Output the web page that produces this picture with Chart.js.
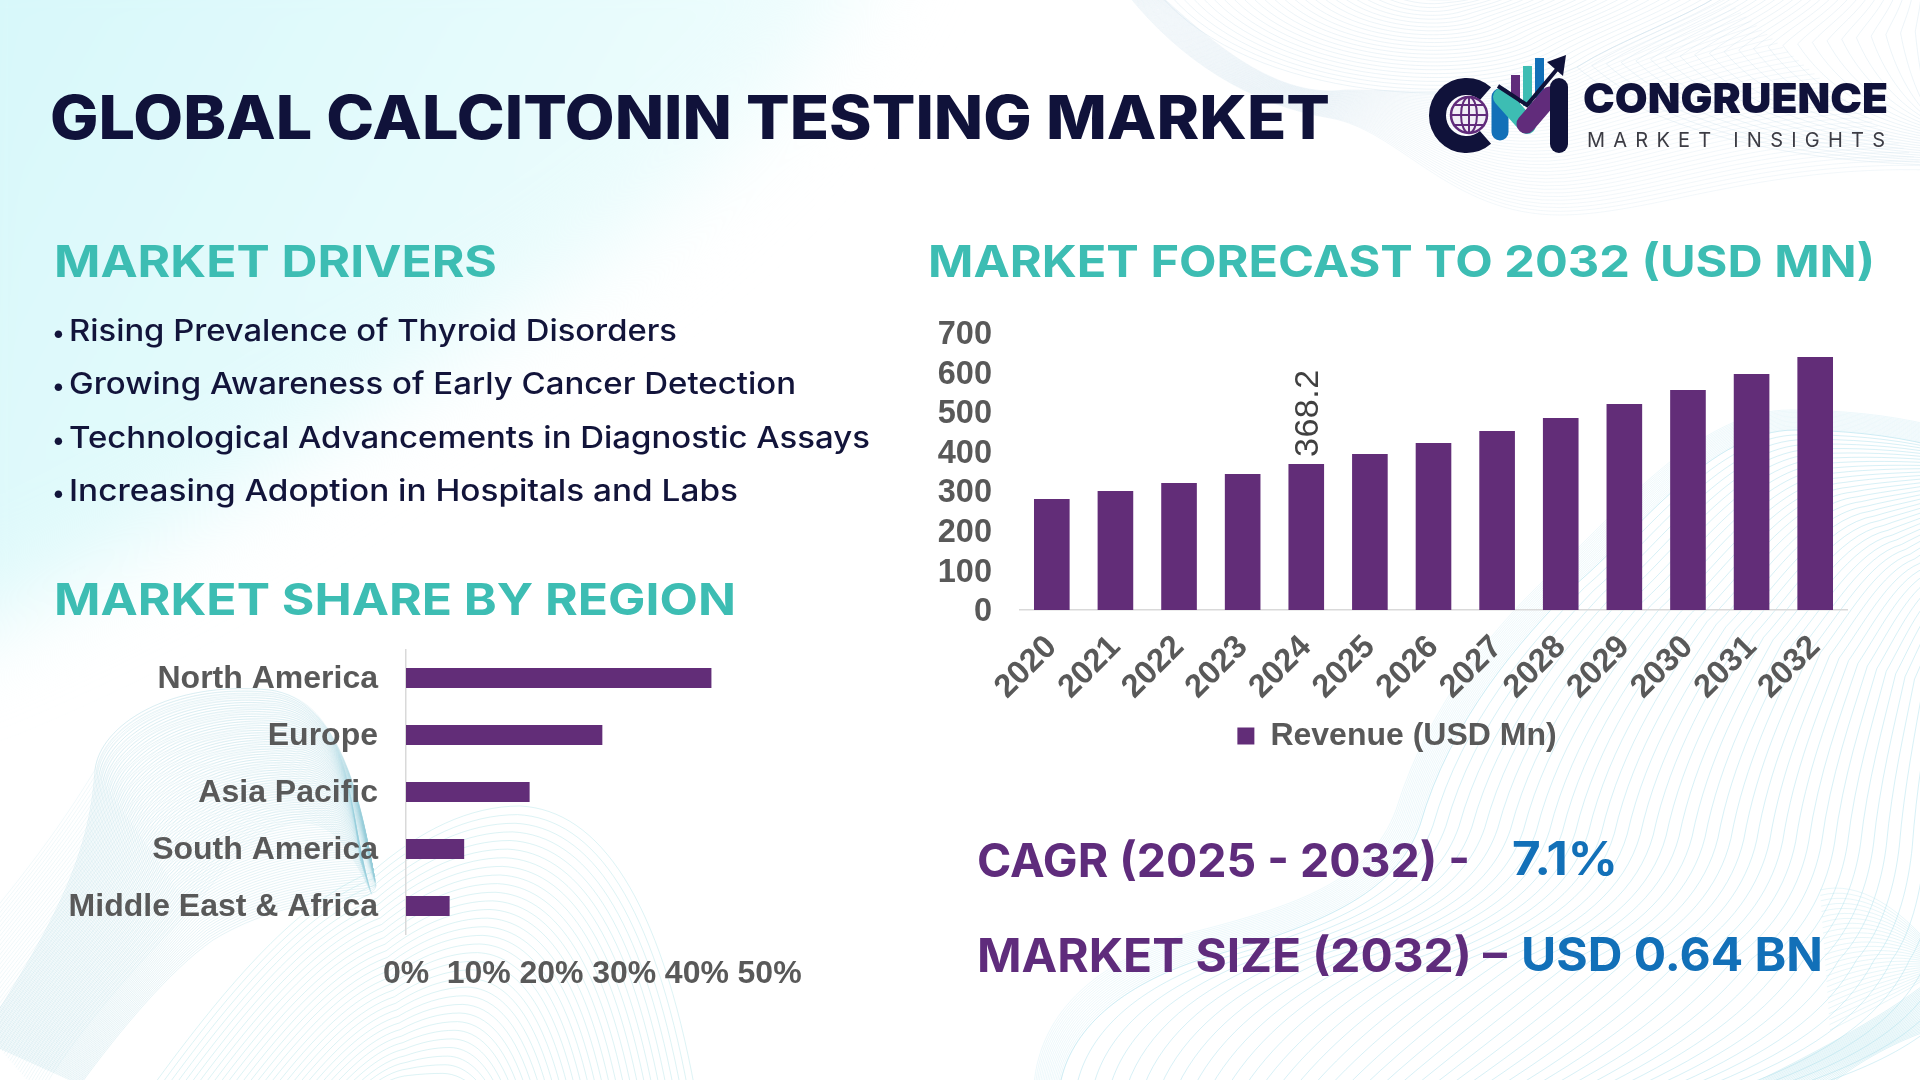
<!DOCTYPE html>
<html>
<head>
<meta charset="utf-8">
<title>Global Calcitonin Testing Market</title>
<script src="https://cdn.jsdelivr.net/npm/chart.js@4"></script>
<style>
    html, body { margin: 0; padding: 0; background: #fff; }
    #page { position: relative; width: 1920px; height: 1080px; overflow: hidden; background: #fff; }
    #page canvas, #page svg { position: absolute; }
    #bg { left: 0; top: 0; }
    #texts { left: 0; top: 0; }
    #chart-forecast { left: 935px; top: 280px; }
    #chart-region { left: 40px; top: 600px; }
    text { font-family: Inter, sans-serif; }
</style>
</head>
<body>
<div id="page">
    <canvas id="bg" width="1920" height="1080"></canvas>
    <svg id="texts" width="1920" height="1080" viewBox="0 0 1920 1080">
        <text x="50" y="139" font-size="60" font-weight="800" fill="#10123a" textLength="1280" lengthAdjust="spacingAndGlyphs">GLOBAL CALCITONIN TESTING MARKET</text>

        <text x="54" y="277" font-size="44" font-weight="700" fill="#3dbdb3" textLength="443" lengthAdjust="spacingAndGlyphs">MARKET DRIVERS</text>
        <text x="928" y="277" font-size="44" font-weight="700" fill="#3dbdb3" textLength="947" lengthAdjust="spacingAndGlyphs">MARKET FORECAST TO 2032 (USD MN)</text>
        <text x="54" y="615" font-size="44" font-weight="700" fill="#3dbdb3" textLength="682" lengthAdjust="spacingAndGlyphs">MARKET SHARE BY REGION</text>

        <text x="52" y="341" font-size="24" font-weight="500" fill="#12143a">•</text>
        <text x="69" y="341" font-size="30" font-weight="500" fill="#12143a" textLength="608" lengthAdjust="spacingAndGlyphs">Rising Prevalence of Thyroid Disorders</text>
        <text x="52" y="394" font-size="24" font-weight="500" fill="#12143a">•</text>
        <text x="69" y="394" font-size="30" font-weight="500" fill="#12143a" textLength="727" lengthAdjust="spacingAndGlyphs">Growing Awareness of Early Cancer Detection</text>
        <text x="52" y="448" font-size="24" font-weight="500" fill="#12143a">•</text>
        <text x="69" y="448" font-size="30" font-weight="500" fill="#12143a" textLength="801" lengthAdjust="spacingAndGlyphs">Technological Advancements in Diagnostic Assays</text>
        <text x="52" y="501" font-size="24" font-weight="500" fill="#12143a">•</text>
        <text x="69" y="501" font-size="30" font-weight="500" fill="#12143a" textLength="669" lengthAdjust="spacingAndGlyphs">Increasing Adoption in Hospitals and Labs</text>

        <text x="977" y="877" font-size="46" font-weight="700" fill="#5f2c7c" textLength="493" lengthAdjust="spacingAndGlyphs">CAGR (2025 - 2032) -</text>
        <text x="1512" y="875" font-size="46" font-weight="700" fill="#1270b8" textLength="106" lengthAdjust="spacingAndGlyphs">7.1%</text>
        <text x="977" y="972" font-size="46" font-weight="700" fill="#5f2c7c" textLength="530" lengthAdjust="spacingAndGlyphs">MARKET SIZE (2032) –</text>
        <text x="1521" y="971" font-size="46" font-weight="700" fill="#1270b8" textLength="302" lengthAdjust="spacingAndGlyphs">USD 0.64 BN</text>

        <!-- logo -->
        <rect x="1511" y="75" width="9" height="32" fill="#612c7b"/>
        <rect x="1523" y="66" width="9" height="40" fill="#3dbdb3"/>
        <rect x="1535" y="58" width="9" height="40" fill="#1270b8"/>
        <path d="M1485.5 93.6 A29 29 0 1 0 1485.5 137.4" fill="none" stroke="#10123a" stroke-width="17"/>
        <circle cx="1469" cy="115" r="18" fill="#f1eff6" stroke="#612c7b" stroke-width="2.5"/>
        <ellipse cx="1469" cy="115" rx="8" ry="18" fill="none" stroke="#612c7b" stroke-width="2"/>
        <path d="M1469 97V133M1451 115H1487M1454 105H1484M1454 125H1484" fill="none" stroke="#612c7b" stroke-width="2"/>
        <path d="M1500 97L1500 132" fill="none" stroke="#1270b8" stroke-width="17" stroke-linecap="round"/>
        <path d="M1502 97L1527 125" fill="none" stroke="#3dbdb3" stroke-width="18" stroke-linecap="round"/>
        <path d="M1526 124L1550 96" fill="none" stroke="#612c7b" stroke-width="19" stroke-linecap="round"/>
        <rect x="1550" y="78" width="18" height="75" rx="9" fill="#10123a"/>
        <path d="M1498 86L1527 105L1558 68" fill="none" stroke="#10123a" stroke-width="4"/>
        <path d="M1566 55L1547 62L1563 76Z" fill="#10123a"/>
        <text x="1583" y="113" font-size="41" font-weight="900" fill="#10123a" textLength="305" lengthAdjust="spacingAndGlyphs">CONGRUENCE</text>
        <text x="1587" y="147" font-size="20" font-weight="400" fill="#3c3c44" textLength="298" lengthAdjust="spacing">MARKET INSIGHTS</text>
    </svg>
    <canvas id="chart-forecast" width="932" height="482"></canvas>
    <canvas id="chart-region" width="800" height="400"></canvas>
</div>

<script>
    const years = ['2020', '2021', '2022', '2023', '2024', '2025', '2026', '2027', '2028', '2029', '2030', '2031', '2032'];
    const revenue = [280, 300, 320, 343, 368.2, 393.5, 421, 451.5, 484, 519.5, 555, 595, 638];
    const labelledYears = ['2024'];
    const revenueMax = 700;
    const revenueStep = 100;

    const regions = ['North America', 'Europe', 'Asia Pacific', 'South America', 'Middle East & Africa'];
    const regionShare = [42, 27, 17, 8, 6];
    const shareMax = 50;
    const shareStep = 10;

    const purple = '#622d78';
    const grey = '#595959';
    const axisLine = '#d9d9d9';

    // value label turned on its side, only for the years listed
    const barLabels = {
        id: 'barLabels',
        afterDatasetsDraw(chart) {
            let ctx = chart.ctx;
            let meta = chart.getDatasetMeta(0);
            labelledYears.forEach(function (year) {
                let i = years.indexOf(year);
                let bar = meta.data[i];
                ctx.save();
                ctx.translate(bar.x + 2, bar.y - 7);
                ctx.rotate(-Math.PI / 2);
                ctx.font = '34px "Liberation Sans"';
                ctx.letterSpacing = '0.5px';
                ctx.fillStyle = '#404040';
                ctx.textAlign = 'left';
                ctx.textBaseline = 'middle';
                ctx.fillText(String(revenue[i]), 0, 0);
                ctx.restore();
            });
        }
    };

    // legend sits a little right of the plot centre
    const legendShift = {
        id: 'legendShift',
        afterLayout(chart) {
            chart.legend.left += 6;
            chart.legend.right += 6;
        }
    };

    // the automatic layout leaves room for tick labels, so nudge the padding
    // until the plot area ends where it should on the page
    function pinPlot(chart, target, xAxis) {
        let padding = chart.options.layout.padding;
        for (let i = 0; i < 4; i++) {
            let area = chart.chartArea;
            padding.right += area.right - target.right;
            xAxis.height += area.bottom - target.bottom;
            chart.update();
        }
    }

    const forecastAxis = { height: 100 };
    const regionAxis = { height: 65 };

    const forecastChart = new Chart(document.getElementById('chart-forecast').getContext('2d'), {
        type: 'bar',
        data: {
            labels: years,
            datasets: [{
                label: 'Revenue (USD Mn)',
                data: revenue,
                backgroundColor: purple,
                categoryPercentage: 1,
                barPercentage: 0.56
            }]
        },
        options: {
            responsive: false,
            animation: false,
            layout: { padding: { top: 52.4, right: 20 } },
            scales: {
                x: {
                    grid: { display: false, drawTicks: false },
                    border: { color: axisLine, width: 1.5 },
                    ticks: {
                        color: grey,
                        font: { family: 'Liberation Sans', size: 32.5, weight: 'bold' },
                        minRotation: 45,
                        maxRotation: 45,
                        autoSkip: false,
                        padding: 18
                    },
                    afterFit: function (scale) { scale.height = forecastAxis.height; }
                },
                y: {
                    min: 0,
                    max: revenueMax,
                    grid: { display: false, drawTicks: false },
                    border: { display: false },
                    ticks: {
                        stepSize: revenueStep,
                        autoSkip: false,
                        color: grey,
                        font: { family: 'Liberation Sans', size: 32.5, weight: 'bold' },
                        padding: 28,
                        labelOffset: 2.5
                    },
                    afterFit: function (scale) { scale.width = 85; }
                }
            },
            plugins: {
                tooltip: { enabled: false },
                legend: {
                    position: 'bottom',
                    labels: {
                        color: grey,
                        font: { family: 'Liberation Sans', size: 32, weight: 'bold' },
                        boxWidth: 17,
                        boxHeight: 17,
                        padding: 8
                    }
                }
            }
        },
        plugins: [barLabels, legendShift]
    });
    pinPlot(forecastChart, { right: 912, bottom: 330 }, forecastAxis);

    const regionChart = new Chart(document.getElementById('chart-region').getContext('2d'), {
        type: 'bar',
        data: {
            labels: regions,
            datasets: [{
                label: 'Share',
                data: regionShare,
                backgroundColor: purple,
                categoryPercentage: 1,
                barPercentage: 0.35
            }]
        },
        options: {
            indexAxis: 'y',
            responsive: false,
            animation: false,
            layout: { padding: { top: 49.5, right: 70 } },
            scales: {
                x: {
                    min: 0,
                    max: shareMax,
                    grid: { display: false, drawTicks: false },
                    border: { display: false },
                    ticks: {
                        stepSize: shareStep,
                        color: grey,
                        font: { family: 'Liberation Sans', size: 32, weight: 'bold' },
                        maxRotation: 0,
                        autoSkip: false,
                        padding: 20,
                        callback: function (value) { return value + '%'; }
                    },
                    afterFit: function (scale) { scale.height = regionAxis.height; }
                },
                y: {
                    grid: { display: false, drawTicks: false },
                    border: { color: axisLine, width: 1.5 },
                    ticks: {
                        color: grey,
                        font: { family: 'Liberation Sans', size: 32, weight: 'bold' },
                        padding: 28,
                        labelOffset: 1.5,
                        autoSkip: false
                    },
                    afterFit: function (scale) { scale.width = 366; }
                }
            },
            plugins: {
                tooltip: { enabled: false },
                legend: { display: false }
            }
        }
    });
    pinPlot(regionChart, { right: 729.6, bottom: 334.5 }, regionAxis);

    // background: tint in the top left corner and the faint line ribbons
    function blend(ctx, a, b, count, color, width) {
        ctx.strokeStyle = color;
        ctx.lineWidth = width;
        for (let n = 0; n <= count; n++) {
            let t = n / count;
            let p = a.map(function (pt, i) {
                return [pt[0] + (b[i][0] - pt[0]) * t, pt[1] + (b[i][1] - pt[1]) * t];
            });
            ctx.beginPath();
            ctx.moveTo(p[0][0], p[0][1]);
            for (let i = 1; i + 2 < p.length; i += 3) {
                ctx.bezierCurveTo(p[i][0], p[i][1], p[i + 1][0], p[i + 1][1], p[i + 2][0], p[i + 2][1]);
            }
            ctx.stroke();
        }
    }

    function drawBackground() {
        let ctx = document.getElementById('bg').getContext('2d');
        ctx.fillStyle = '#ffffff';
        ctx.fillRect(0, 0, 1920, 1080);

        ctx.save();
        ctx.filter = 'blur(45px)';
        ctx.beginPath();
        ctx.moveTo(-100, -100);
        ctx.lineTo(900, -100);
        ctx.bezierCurveTo(820, 120, 620, 260, 420, 380);
        ctx.bezierCurveTo(260, 480, 120, 580, -100, 660);
        ctx.closePath();
        let tint = ctx.createLinearGradient(0, 60, 800, 500);
        tint.addColorStop(0, '#d8f8fa');
        tint.addColorStop(0.5, '#e6fbfc');
        tint.addColorStop(1, '#f6fefe');
        ctx.fillStyle = tint;
        ctx.fill();
        ctx.restore();

        // bottom left ribbon
        const ribbonOuter = [[-20, 1040], [50, 930], [90, 860], [95, 770], [100, 725], [170, 680], [270, 690], [340, 700], [360, 800], [372, 865]];
        const ribbonInner = [[80, 1085], [120, 1030], [170, 970], [213, 940], [270, 905], [330, 900], [368, 895], [372, 892], [376, 890], [376, 885]];
        blend(ctx, ribbonOuter, ribbonInner, 90, 'rgba(150,205,218,0.24)', 1);
        blend(ctx,
            [[-60, 980], [0, 900], [40, 860], [95, 770], [100, 725], [170, 680], [270, 690], [340, 700], [350, 780], [360, 860]],
            [[40, 1095], [70, 1040], [130, 970], [200, 900], [250, 830], [300, 800], [340, 840], [355, 860], [365, 880], [372, 895]],
            50, 'rgba(150,205,218,0.14)', 1);
        // hump next to it
        blend(ctx,
            [[150, 1090], [230, 980], [300, 900], [372, 872], [420, 830], [470, 806], [520, 806], [600, 810], [660, 900], [695, 1090]],
            [[380, 1090], [390, 1085], [400, 1082], [410, 1082], [420, 1082], [430, 1082], [440, 1082], [450, 1082], [460, 1085], [470, 1090]],
            32, 'rgba(170,225,230,0.4)', 1);
        // bottom right
        const rightEdge = [[1034, 1085], [1040, 1010], [1100, 960], [1190, 933], [1300, 905], [1370, 880], [1396, 810], [1430, 700], [1500, 620], [1558, 567], [1620, 510], [1700, 410], [1790, 410], [1840, 410], [1890, 415], [1930, 425]];
        const rightEdgeIn = [[1060, 1085], [1070, 1030], [1120, 985], [1205, 958], [1320, 925], [1395, 895], [1420, 825], [1450, 720], [1520, 640], [1575, 585], [1640, 530], [1710, 430], [1795, 430], [1840, 430], [1890, 435], [1930, 445]];
        const rightFar = [[1800, 1090], [1900, 1060], [1960, 1020], [1980, 960], [1990, 930], [1990, 880], [1990, 850], [1990, 800], [1990, 750], [1990, 700], [1990, 680], [1990, 660], [1990, 640], [1990, 620], [1990, 600], [1990, 560]];
        blend(ctx, rightEdgeIn, rightFar, 44, 'rgba(175,225,238,0.5)', 1);
        blend(ctx, rightEdge, rightEdgeIn, 16, 'rgba(175,225,238,0.22)', 1);
        blend(ctx,
            [[1750, 1085], [1800, 1060], [1880, 1020], [1930, 980]],
            [[1830, 1085], [1860, 1060], [1900, 1040], [1930, 1030]],
            28, 'rgba(175,225,235,0.4)', 1);
        blend(ctx,
            [[1820, 890], [1860, 880], [1900, 910], [1930, 945]],
            [[1830, 1030], [1870, 1010], [1910, 990], [1930, 975]],
            26, 'rgba(175,225,235,0.3)', 1);
        // top right
        blend(ctx,
            [[1128, -5], [1180, 60], [1250, 105], [1330, 118], [1400, 130], [1450, 215], [1560, 215], [1650, 215], [1760, 165], [1930, 170]],
            [[1160, -5], [1200, 30], [1270, 100], [1345, 90], [1420, 90], [1500, 100], [1577, 67], [1620, 40], [1680, 20], [1720, -5]],
            40, 'rgba(195,218,232,0.22)', 1);
        blend(ctx,
            [[1160, -5], [1250, 100], [1480, 115], [1577, 67], [1620, 40], [1680, 20], [1720, -5]],
            [[1400, -5], [1420, 0], [1430, 0], [1440, 0], [1450, 0], [1460, 0], [1470, -5]],
            24, 'rgba(195,218,232,0.3)', 1);
        blend(ctx,
            [[1720, -5], [1680, 20], [1620, 40], [1577, 67], [1650, 130], [1780, 160], [1930, 165]],
            [[1930, -5], [1930, 10], [1930, 20], [1930, 30], [1930, 60], [1930, 90], [1930, 110]],
            24, 'rgba(195,218,232,0.3)', 1);
    }
    drawBackground();
</script>
</body>
</html>
